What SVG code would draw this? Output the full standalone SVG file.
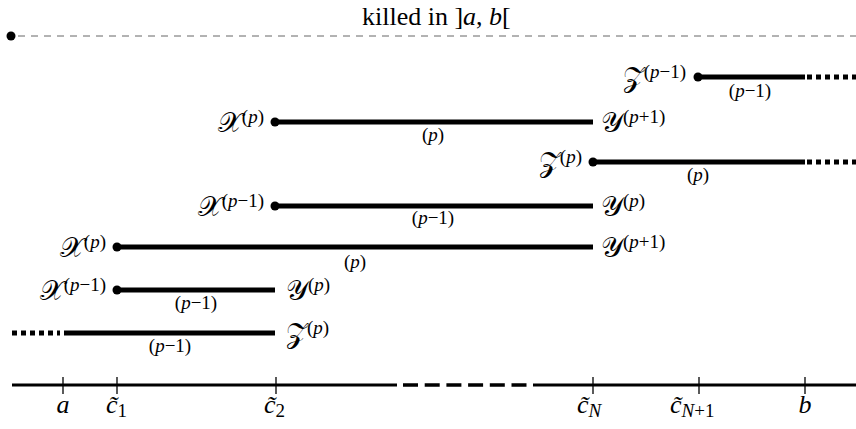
<svg xmlns="http://www.w3.org/2000/svg" width="856" height="429" viewBox="0 0 856 429">
<style>
.bar{stroke:#000;stroke-width:5;fill:none}
.dot{stroke:#000;stroke-width:5;fill:none;stroke-dasharray:5 4}
.lab{font-family:"Liberation Serif","Times New Roman","DejaVu Serif",serif;font-size:28px;fill:#000}
.scr{font-family:"DejaVu Serif","Noto Sans",serif}
.sup{font-size:19px}
.sub{font-family:"Liberation Serif","Times New Roman","DejaVu Serif",serif;font-size:19px;fill:#000;text-anchor:middle}
.tl{font-family:"Liberation Serif","Times New Roman","DejaVu Serif",serif;font-size:26px;fill:#000;font-style:italic}
.ts{font-size:19px;font-style:normal}
.it{font-style:italic}
</style>
<rect width="856" height="429" fill="#fff"/>
<g id="title">
<circle cx="11" cy="36" r="4.5" fill="#000"/>
<line x1="18" y1="36" x2="856" y2="36" stroke="#666" stroke-width="1" stroke-dasharray="7 6"/>
<text x="362" y="25" font-family="'Liberation Serif','Times New Roman','DejaVu Serif',serif" font-size="26">killed in ]<tspan class="it">a</tspan>, <tspan class="it">b</tspan>[</text>
</g>
<g id="connectors">
<line class="bar" x1="698" y1="77" x2="805" y2="77"/><line class="dot" x1="807" y1="77" x2="856" y2="77"/>
<line class="bar" x1="275" y1="122" x2="593" y2="122"/>
<line class="bar" x1="593" y1="162" x2="805" y2="162"/><line class="dot" x1="807" y1="162" x2="856" y2="162"/>
<line class="bar" x1="275" y1="206" x2="593" y2="206"/>
<line class="bar" x1="117" y1="247" x2="593" y2="247"/>
<line class="bar" x1="117" y1="290" x2="275" y2="290"/>
<line class="dot" x1="12" y1="333" x2="60" y2="333"/><line class="bar" x1="64" y1="333" x2="275" y2="333"/>
<line x1="12" y1="385" x2="397" y2="385" stroke="#000" stroke-width="3"/>
<line x1="403" y1="385" x2="533" y2="385" stroke="#000" stroke-width="3.5" stroke-dasharray="15 6.7"/>
<line x1="533" y1="385" x2="856" y2="385" stroke="#000" stroke-width="3"/>
</g>
<g id="dots" fill="#000">
<circle cx="698" cy="77" r="4.5"/>
<circle cx="275" cy="122" r="4.5"/>
<circle cx="593" cy="162" r="4.5"/>
<circle cx="275" cy="206" r="4.5"/>
<circle cx="117" cy="247" r="4.5"/>
<circle cx="117" cy="290" r="4.5"/>
</g>
<g id="row1">
<text class="lab" x="686" y="87" text-anchor="end"><tspan class="scr">𝒵</tspan><tspan class="sup" dy="-9">(<tspan class="it">p</tspan>−1)</tspan></text>
<text class="sub" x="750" y="97">(<tspan class="it">p</tspan>−1)</text>
</g>
<g id="row2">
<text class="lab" x="264" y="132" text-anchor="end"><tspan class="scr">𝒳</tspan><tspan class="sup" dy="-9">(<tspan class="it">p</tspan>)</tspan></text>
<text class="lab" x="601" y="132"><tspan class="scr">𝒴</tspan><tspan class="sup" dy="-9">(<tspan class="it">p</tspan>+1)</tspan></text>
<text class="sub" x="433" y="141">(<tspan class="it">p</tspan>)</text>
</g>
<g id="row3">
<text class="lab" x="582" y="172" text-anchor="end"><tspan class="scr">𝒵</tspan><tspan class="sup" dy="-9">(<tspan class="it">p</tspan>)</tspan></text>
<text class="sub" x="698" y="181">(<tspan class="it">p</tspan>)</text>
</g>
<g id="row4">
<text class="lab" x="264" y="216" text-anchor="end"><tspan class="scr">𝒳</tspan><tspan class="sup" dy="-9">(<tspan class="it">p</tspan>−1)</tspan></text>
<text class="lab" x="601" y="216"><tspan class="scr">𝒴</tspan><tspan class="sup" dy="-9">(<tspan class="it">p</tspan>)</tspan></text>
<text class="sub" x="433" y="224">(<tspan class="it">p</tspan>−1)</text>
</g>
<g id="row5">
<text class="lab" x="106" y="257" text-anchor="end"><tspan class="scr">𝒳</tspan><tspan class="sup" dy="-9">(<tspan class="it">p</tspan>)</tspan></text>
<text class="lab" x="601" y="257"><tspan class="scr">𝒴</tspan><tspan class="sup" dy="-9">(<tspan class="it">p</tspan>+1)</tspan></text>
<text class="sub" x="355" y="268">(<tspan class="it">p</tspan>)</text>
</g>
<g id="row6">
<text class="lab" x="106" y="300" text-anchor="end"><tspan class="scr">𝒳</tspan><tspan class="sup" dy="-9">(<tspan class="it">p</tspan>−1)</tspan></text>
<text class="lab" x="286" y="300"><tspan class="scr">𝒴</tspan><tspan class="sup" dy="-9">(<tspan class="it">p</tspan>)</tspan></text>
<text class="sub" x="196" y="309">(<tspan class="it">p</tspan>−1)</text>
</g>
<g id="row7">
<text class="lab" x="286" y="343"><tspan class="scr">𝒵</tspan><tspan class="sup" dy="-9">(<tspan class="it">p</tspan>)</tspan></text>
<text class="sub" x="170" y="352">(<tspan class="it">p</tspan>−1)</text>
</g>
<g id="axis">
<line x1="63" y1="377" x2="63" y2="394" stroke="#000" stroke-width="1.3"/>
<line x1="117" y1="377" x2="117" y2="394" stroke="#000" stroke-width="1.3"/>
<line x1="276" y1="377" x2="276" y2="394" stroke="#000" stroke-width="1.3"/>
<line x1="593" y1="377" x2="593" y2="394" stroke="#000" stroke-width="1.3"/>
<line x1="699" y1="377" x2="699" y2="394" stroke="#000" stroke-width="1.3"/>
<line x1="805" y1="377" x2="805" y2="394" stroke="#000" stroke-width="1.3"/>
<text class="tl" x="63" y="413" text-anchor="middle">a</text>
<text class="tl" x="106" y="413">c̃<tspan class="ts" dy="4">1</tspan></text>
<text class="tl" x="264" y="413">c̃<tspan class="ts" dy="4">2</tspan></text>
<text class="tl" x="577" y="413">c̃<tspan class="ts it" dy="4">N</tspan></text>
<text class="tl" x="670" y="413">c̃<tspan class="ts" dy="4"><tspan class="it">N</tspan>+1</tspan></text>
<text class="tl" x="805" y="413" text-anchor="middle">b</text>
</g>
</svg>
